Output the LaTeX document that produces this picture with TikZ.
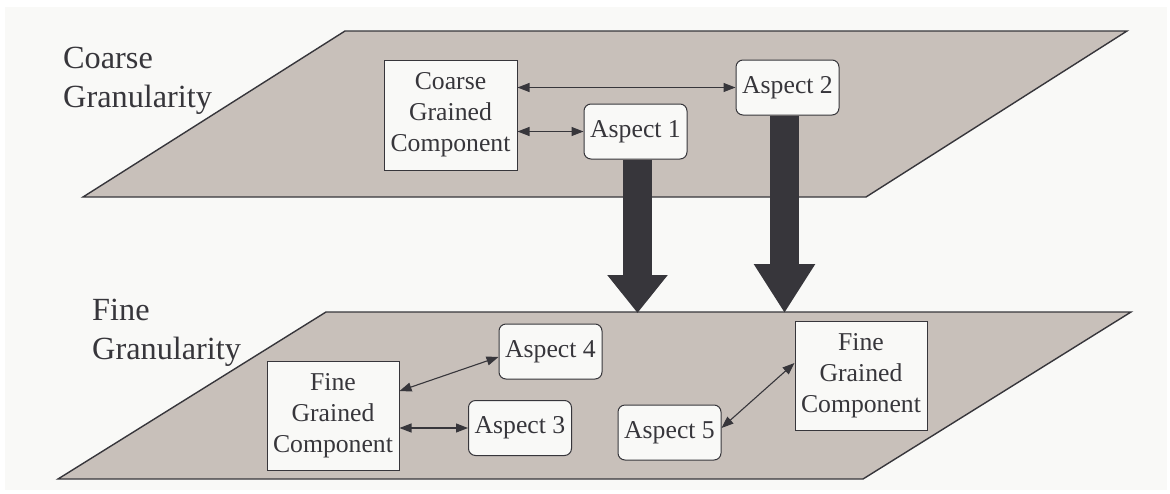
\documentclass[tikz,border=0pt]{standalone}
\usepackage{fontspec}
\setmainfont{Liberation Serif}
\usetikzlibrary{arrows.meta}
\definecolor{paper}{HTML}{F9F9F7}
\definecolor{plane}{HTML}{C8C0BA}
\definecolor{ink}{HTML}{37363B}

\begin{document}
\begin{tikzpicture}[x=1pt,y=-1pt,
  planefill/.style={fill=plane, draw=ink, line width=1.4pt, line join=miter},
  comp/.style={draw=ink, fill=paper, line width=1pt, inner sep=0pt,
    minimum width=133pt, minimum height=110pt, align=center, text=ink,
    font=\fontsize{25.7}{31}\selectfont},
  aspect/.style={comp, rounded corners=7pt, minimum width=103pt, minimum height=55pt},
  link/.style={draw=ink, line width=1.1pt,
    {Triangle[length=12pt,width=9pt]}-{Triangle[length=12pt,width=9pt]}},
  bigarrow/.style={draw=ink, line width=29pt},
  level/.style={anchor=north west, align=left, inner sep=0pt, text=ink,
    font=\fontsize{32.3}{39}\selectfont}]

\useasboundingbox (0,0) rectangle (1170,493);
\fill[white] (0,0) rectangle (1170,493);
\fill[paper] (5,7) rectangle (1167,490);

% the two granularity planes
\draw[planefill] (83,197) -- (345,31) -- (1127,31) -- (866,197) -- cycle;
\draw[planefill] (58,479) -- (326,312) -- (1131,312) -- (863,479) -- cycle;

% level labels
\node[level] (coarse) at (63,47) {Coarse\\Granularity};
\node[level] (fine) at (92,299) {Fine\\Granularity};

% coarse level
\node[comp] (cgc) at (450.5,115) {Coarse\\Grained\\Component};
\node[aspect] (a1) at (635.5,131.5) {Aspect 1};
\node[aspect] (a2) at (787.5,87.5) {Aspect 2};

% fine level
\node[comp, minimum width=132pt, minimum height=109pt] (fgcl) at (333,415.5) {Fine\\Grained\\Component};
\node[comp, minimum width=132pt, minimum height=109pt] (fgcr) at (861,375.5) {Fine\\Grained\\Component};
\node[aspect] (a4) at (550.5,351.5) {Aspect 4};
\node[aspect] (a3) at (520,428) {Aspect 3};
\node[aspect] (a5) at (669.5,432.5) {Aspect 5};

% refinement arrows down to the fine plane
\coordinate (t1) at (637.5,313);
\coordinate (t2) at (784.5,313);
\draw[bigarrow, -{Triangle[length=38pt,width=58pt]}] ([xshift=2pt]a1.south) -- (t1);
\draw[bigarrow, -{Triangle[length=49pt,width=58pt]}] ([xshift=-3pt]a2.south) -- (t2);

% component/aspect links
\draw[link] (cgc.east |- a2.west) -- (a2.west);
\draw[link] (cgc.east |- a1.west) -- (a1.west);
\draw[link] ([yshift=24.5pt]fgcl.east) -- ([yshift=-5.5pt]a4.west);
\draw[link] (fgcl.east |- a3.west) -- (a3.west);
\draw[link] ([yshift=4.5pt]a5.east) -- ([yshift=12.5pt]fgcr.west);
\end{tikzpicture}
\end{document}
